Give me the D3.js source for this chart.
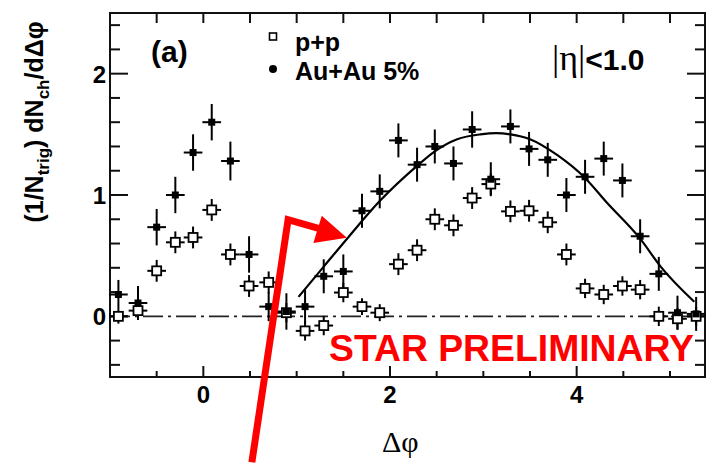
<!DOCTYPE html>
<html>
<head>
<meta charset="utf-8">
<script src="https://cdn.jsdelivr.net/npm/d3@7"></script>
<style>
  body { margin: 0; background: #fff; }
  #chart { width: 713px; height: 464px; }
</style>
</head>
<body>
<div id="chart"></div>
<script>
// bin centres (delta phi)
var dphi = [-0.91, -0.70, -0.50, -0.30, -0.11, 0.09, 0.29, 0.49, 0.70, 0.89, 1.09, 1.29, 1.50, 1.70, 1.89, 2.09,
            2.29, 2.48, 2.68, 2.88, 3.08, 3.29, 3.49, 3.69, 3.89, 4.09, 4.29, 4.49, 4.68, 4.88, 5.08, 5.28];
var binHalf = 0.1;

// Au+Au 5% (filled)
var auau = [0.18, 0.11, 0.735, 1.0, 1.35, 1.60, 1.28, 0.51, 0.08, 0.04, 0.08, 0.33, 0.37, 0.87, 1.03, 1.45,
            1.25, 1.40, 1.26, 1.54, 1.13, 1.565, 1.38, 1.29, 1.0, 1.15, 1.30, 1.12, 0.66, 0.35, 0.03, 0.02];
var auauErr = [0.12, 0.14, 0.15, 0.15, 0.15, 0.15, 0.16, 0.15, 0.12, 0.15, 0.14, 0.14, 0.14, 0.14, 0.14, 0.14,
               0.14, 0.14, 0.14, 0.15, 0.14, 0.14, 0.14, 0.14, 0.14, 0.14, 0.14, 0.14, 0.14, 0.14, 0.14, 0.14];

// p+p (open)
var pp = [0.0, 0.047, 0.375, 0.61, 0.65, 0.877, 0.51, 0.25, 0.28, 0.03, -0.12, -0.076, 0.196, 0.08, 0.03, 0.43,
          0.545, 0.80, 0.75, 0.975, 1.09, 0.865, 0.87, 0.775, 0.51, 0.23, 0.18, 0.25, 0.22, 0.0, -0.02, 0.0];
var ppErr = [0.06, 0.07, 0.09, 0.09, 0.09, 0.09, 0.09, 0.09, 0.09, 0.08, 0.08, 0.08, 0.08, 0.07, 0.07, 0.09,
             0.09, 0.09, 0.09, 0.09, 0.09, 0.09, 0.09, 0.09, 0.09, 0.08, 0.08, 0.08, 0.08, 0.08, 0.09, 0.08];

// fit curve
var fitX = [1.02, 1.29, 1.54, 1.89, 2.29, 2.48, 2.72, 2.97, 3.14, 3.29, 3.50, 3.79, 4.09, 4.32, 4.68, 4.90, 5.26];
var fitY = [0.16, 0.41, 0.64, 0.95, 1.24, 1.36, 1.46, 1.50, 1.51, 1.50, 1.46, 1.33, 1.14, 0.94, 0.64, 0.41, 0.12];

// axis
var xDomain = [-1.0, 5.375], yDomain = [-0.5, 2.5];
var xTickLabels = [0, 2, 4], yTickLabels = [0, 1, 2];

// red annotation arrow (data units)
var arrowLine = [[0.52, -1.202], [0.908, 0.797], [1.272, 0.716]];
var arrowHead = [[1.269, 0.830], [1.537, 0.648], [1.179, 0.604]];

var width = 713, height = 464,
    marginLeft = 110, marginTop = 13,
    chartWidth = 595, chartHeight = 364;

var x = d3.scaleLinear().domain(xDomain).range([0, chartWidth]);
var y = d3.scaleLinear().domain(yDomain).range([chartHeight, 0]);

var svg = d3.select('#chart').append('svg')
    .attr('width', width).attr('height', height);

var g = svg.append('g')
    .attr('transform', 'translate(' + marginLeft + ',' + marginTop + ')');

var bold = 'Liberation Sans, Arial, Helvetica, sans-serif';
var serif = 'Liberation Serif, Times New Roman, serif';

// ticks
var xMinor = d3.range(-1, 5.4, 0.5);
var yMinor = d3.range(-0.4, 2.5, 0.2).map(function(d){ return Math.round(d * 10) / 10; });

function isMajor(v){ return Math.abs(v - Math.round(v)) < 1e-6; }

var ticks = g.append('g').attr('stroke', '#111').attr('stroke-width', 2);
xMinor.forEach(function(v){
    var len = isMajor(v) && v % 2 === 0 ? 11 : 6;
    ticks.append('line').attr('x1', x(v)).attr('x2', x(v)).attr('y1', chartHeight).attr('y2', chartHeight - len);
    ticks.append('line').attr('x1', x(v)).attr('x2', x(v)).attr('y1', 0).attr('y2', 10);
});
yMinor.forEach(function(v){
    var len = isMajor(v) ? 18 : 10;
    ticks.append('line').attr('x1', 0).attr('x2', len).attr('y1', y(v)).attr('y2', y(v));
    ticks.append('line').attr('x1', chartWidth).attr('x2', chartWidth - len).attr('y1', y(v)).attr('y2', y(v));
});

// frame
g.append('rect')
    .attr('width', chartWidth).attr('height', chartHeight)
    .attr('fill', 'none').attr('stroke', '#111').attr('stroke-width', 2);

// tick labels
g.selectAll('.xl').data(xTickLabels).enter().append('text')
    .attr('x', function(d){ return x(d); })
    .attr('y', chartHeight + 26)
    .attr('text-anchor', 'middle')
    .style('font-family', bold).style('font-weight', 'bold').style('font-size', '24px')
    .text(function(d){ return d; });

g.selectAll('.yl').data(yTickLabels).enter().append('text')
    .attr('x', -4)
    .attr('y', function(d){ return y(d) + 9; })
    .attr('text-anchor', 'end')
    .style('font-family', bold).style('font-weight', 'bold').style('font-size', '24px')
    .text(function(d){ return d; });

// zero line
g.append('line')
    .attr('x1', 0).attr('x2', chartWidth)
    .attr('y1', y(0)).attr('y2', y(0))
    .attr('stroke', '#222').attr('stroke-width', 1.6)
    .attr('stroke-dasharray', '20,5,3,5');

// fit curve
var fitPts = fitX.map(function(d, i){ return [d, fitY[i]]; });
g.append('path')
    .attr('d', d3.line().x(function(d){ return x(d[0]); }).y(function(d){ return y(d[1]); })
        .curve(d3.curveMonotoneX)(fitPts))
    .attr('fill', 'none').attr('stroke', '#000').attr('stroke-width', 2.2);

// error bars
function errBars(vals, errs) {
    var eb = g.append('g').attr('stroke', '#000').attr('stroke-width', 2);
    dphi.forEach(function(d, i){
        eb.append('line').attr('x1', x(d - binHalf)).attr('x2', x(d + binHalf))
            .attr('y1', y(vals[i])).attr('y2', y(vals[i]));
        eb.append('line').attr('x1', x(d)).attr('x2', x(d))
            .attr('y1', y(vals[i] - errs[i])).attr('y2', y(vals[i] + errs[i]));
    });
}
errBars(pp, ppErr);
errBars(auau, auauErr);

// p+p markers
g.append('g').selectAll('rect').data(dphi).enter().append('rect')
    .attr('x', function(d){ return x(d) - 4.5; })
    .attr('y', function(d, i){ return y(pp[i]) - 4.5; })
    .attr('width', 9).attr('height', 9)
    .attr('fill', '#fff').attr('stroke', '#000').attr('stroke-width', 1.8);

// Au+Au markers
g.append('g').selectAll('rect').data(dphi).enter().append('rect')
    .attr('x', function(d){ return x(d) - 3.5; })
    .attr('y', function(d, i){ return y(auau[i]) - 3.5; })
    .attr('width', 7).attr('height', 7)
    .attr('fill', '#000');

// legend
svg.append('rect').attr('x', 269.5).attr('y', 33).attr('width', 7).attr('height', 7)
    .attr('fill', '#fff').attr('stroke', '#000').attr('stroke-width', 1.6);
svg.append('circle').attr('cx', 273).attr('cy', 69).attr('r', 4).attr('fill', '#000');
svg.append('text').attr('x', 295).attr('y', 51)
    .style('font-family', bold).style('font-weight', 'bold').style('font-size', '25px')
    .text('p+p');
svg.append('text').attr('x', 295).attr('y', 80)
    .style('font-family', bold).style('font-weight', 'bold').style('font-size', '25px')
    .text('Au+Au 5%');

svg.append('text').attr('x', 151).attr('y', 62)
    .style('font-family', bold).style('font-weight', 'bold').style('font-size', '30px')
    .text('(a)');

var eta = svg.append('text').attr('x', 552).attr('y', 70)
    .style('font-size', '30px');
eta.append('tspan').style('font-family', serif).style('font-size', '36px').text('|\u03b7|');
eta.append('tspan').style('font-family', bold).style('font-weight', 'bold').text('<1.0');

// axis titles
svg.append('text').attr('x', 382).attr('y', 452)
    .style('font-family', serif).style('font-size', '30px')
    .text('\u0394\u03c6');

var yt = svg.append('text')
    .attr('transform', 'translate(43,122) rotate(-90)')
    .attr('text-anchor', 'middle')
    .style('font-family', bold).style('font-weight', 'bold').style('font-size', '25px');
yt.append('tspan').text('(1/N');
yt.append('tspan').attr('dy', 6).style('font-size', '17px').text('trig');
yt.append('tspan').attr('dy', -6).text(') dN');
yt.append('tspan').attr('dy', 6).style('font-size', '17px').text('ch');
yt.append('tspan').attr('dy', -6).text('/d\u0394\u03c6');

// STAR PRELIMINARY
svg.append('text').attr('x', 329).attr('y', 361)
    .attr('textLength', 365).attr('lengthAdjust', 'spacingAndGlyphs')
    .style('font-family', bold).style('font-weight', 'bold').style('font-size', '36px')
    .style('fill', '#ff0000')
    .text('STAR PRELIMINARY');

// red arrow
var ax = function(d){ return marginLeft + x(d[0]); }, ay = function(d){ return marginTop + y(d[1]); };
svg.append('path')
    .attr('d', d3.line().x(ax).y(ay)(arrowLine))
    .attr('fill', 'none').attr('stroke', '#ff0000').attr('stroke-width', 7)
    .attr('stroke-linejoin', 'miter');
svg.append('path')
    .attr('d', d3.line().x(ax).y(ay)(arrowHead) + 'Z')
    .attr('fill', '#ff0000');
</script>
</body>
</html>
